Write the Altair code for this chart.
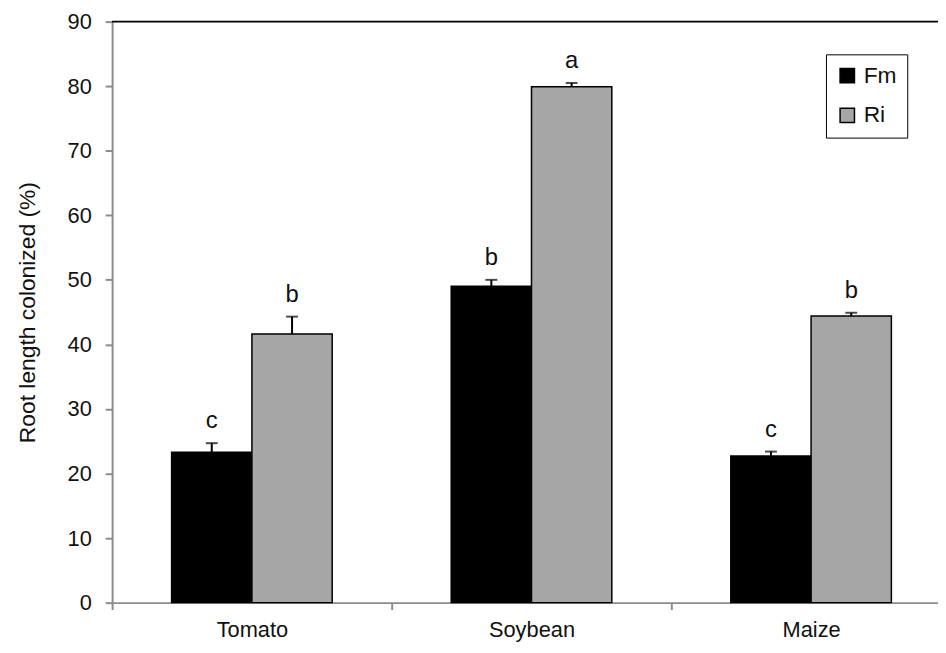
import altair as alt
import pandas as pd

crops = ["Tomato", "Soybean", "Maize"]
series = ["Fm", "Ri"]
fm_means = [23.3, 49.0, 22.7]
fm_err = [1.4, 1.0, 0.7]
ri_means = [41.6, 79.9, 44.4]
ri_err = [2.7, 0.6, 0.5]
fm_letters = ["c", "b", "c"]
ri_letters = ["b", "a", "b"]

rows = []
for i, c in enumerate(crops):
    rows.append({"crop": c, "series": "Fm", "mean": fm_means[i], "err": fm_err[i],
                 "top": fm_means[i] + fm_err[i], "letter": fm_letters[i]})
    rows.append({"crop": c, "series": "Ri", "mean": ri_means[i], "err": ri_err[i],
                 "top": ri_means[i] + ri_err[i], "letter": ri_letters[i]})
df = pd.DataFrame(rows)

FONT = "Liberation Sans"
GRAY = "#8c8c8c"

x_enc = alt.X("crop:N", sort=crops,
              scale=alt.Scale(range=[0, 846], paddingInner=0, paddingOuter=0),
              axis=alt.Axis(title=None, labelAngle=0, tickBand="extent", tickSize=7,
                            domainColor=GRAY, tickColor=GRAY, domainWidth=2,
                            tickWidth=2, labelFontSize=22, labelFont=FONT,
                            labelColor="#111", labelPadding=10))
xo = alt.XOffset("series:N", sort=series, scale=alt.Scale(paddingInner=0, paddingOuter=0.741))
y_scale = alt.Scale(domain=[0, 90], nice=False)

base = alt.Chart(df)

bars = base.mark_bar(stroke="black", strokeWidth=1.5).encode(
    x=x_enc,
    xOffset=xo,
    y=alt.Y("mean:Q", scale=y_scale,
            axis=alt.Axis(title="Root length colonized (%)", values=list(range(0, 91, 10)),
                          grid=False, tickSize=7, domainColor=GRAY, tickColor=GRAY,
                          domainWidth=2, tickWidth=2, labelFontSize=22, labelFont=FONT,
                          labelColor="#111", labelPadding=14, titleFont=FONT,
                          titleFontSize=23, titleFontWeight="normal", titleColor="#111",
                          titlePadding=28)),
    color=alt.Color("series:N", sort=series,
                    scale=alt.Scale(domain=series, range=["#000000", "#a6a6a6"]),
                    legend=alt.Legend(title=None, orient="none", legendX=720, legendY=33,
                                      symbolType="square", symbolSize=210,
                                      symbolStrokeColor="black", symbolStrokeWidth=1.5,
                                      labelFontSize=23, labelFont=FONT, labelColor="#111",
                                      rowPadding=16, padding=10, strokeColor="black",
                                      labelOffset=5)),
)

err_rule = base.mark_rule(color="black", strokeWidth=2).encode(
    x=alt.X("crop:N", sort=crops), xOffset=xo,
    y=alt.Y("mean:Q"), y2="top:Q")

err_cap = base.mark_tick(color="black", thickness=2, size=12, orient="horizontal").encode(
    x=alt.X("crop:N", sort=crops), xOffset=xo, y=alt.Y("top:Q"))

letters = base.mark_text(fontSize=24, font=FONT, color="#111", dy=-15,
                         baseline="alphabetic").encode(
    x=alt.X("crop:N", sort=crops), xOffset=xo, y=alt.Y("top:Q"), text="letter:N")

top_line = alt.Chart(pd.DataFrame({"v": [90]})).mark_rule(color="black", strokeWidth=2).encode(
    y=alt.Y("v:Q"))

chart = alt.layer(bars, err_rule, err_cap, letters, top_line).properties(
    width=833, height=586,
    autosize=alt.AutoSizeParams(type="none"),
    padding={"left": 105, "top": 11, "right": 0, "bottom": 40},
    background="white",
).configure_view(stroke=None)

chart.save("out.html", embed_options={"renderer": "svg", "actions": False})
